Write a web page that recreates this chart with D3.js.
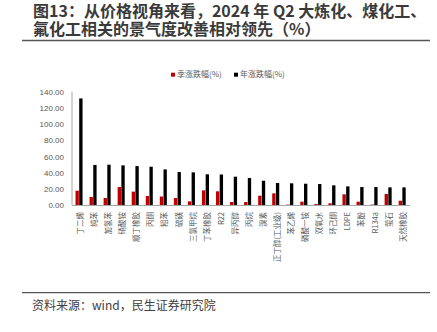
<!DOCTYPE html>
<html><head><meta charset="utf-8">
<script src="https://cdn.jsdelivr.net/npm/d3@7/dist/d3.min.js"></script>
<style>
html,body{margin:0;padding:0;background:#fff;}
svg{display:block;}
</style></head>
<body>
<svg id="c" width="437" height="332"></svg>
<script>
const categories = ["丁二烯","纯苯","加氢苯","硝酸铵","顺丁橡胶","丙酮","粗苯","硫磺","三氯甲烷","丁苯橡胶","R22","异丙醇","丙烷","溴素","正丁醇(工业级)","苯乙烯","磷酸一铵","双氧水","环己酮","LDPE","苯酚","R134a","萤石","天然橡胶"];
const qoqChange = [17.7, 9.9, 8.6, 22.2, 16.5, 11.1, 10.5, 8.6, 4.5, 18.1, 16.9, 3.7, 3.7, 11.5, 14.4, 0.5, 4.1, 1.2, 2.1, 13.2, 4.1, 0.5, 13.6, 5.3];
const yoyChange = [131.7, 49.5, 49.8, 49.0, 48.1, 47.3, 44.0, 40.7, 40.3, 37.9, 37.7, 35.0, 33.3, 30.0, 27.2, 26.8, 26.3, 25.9, 24.3, 23.0, 22.2, 22.2, 21.8, 21.8];
const seriesNames = ["季涨跌幅(%)", "年涨跌幅(%)"];
const seriesColors = ["#C00000", "#000000"];
const yTicks = [0, 20, 40, 60, 80, 100, 120, 140];
const titleLines = ["图13：从价格视角来看，2024 年 Q2 大炼化、煤化工、", "氟化工相关的景气度改善相对领先（%）"];
const sourceText = "资料来源：wind，民生证券研究院";

const svg = d3.select("#c");
const cjk = "'Noto Sans CJK SC', 'Noto Sans', sans-serif";
const latin = "'Liberation Sans', Arial, 'Noto Sans CJK SC', sans-serif";

// Title
svg.selectAll("text.title").data(titleLines).join("text")
  .attr("class","title")
  .attr("x", 33).attr("y", (d,i) => 17 + i*18.3)
  .attr("font-family", cjk).attr("font-weight", "bold").attr("font-size", 16)
  .attr("fill", "#3a3a3a").text(d => d);
svg.append("line").attr("x1", 22).attr("x2", 430).attr("y1", 40.5).attr("y2", 40.5)
  .attr("stroke", "#555").attr("stroke-width", 1.3);

// Footer
svg.append("line").attr("x1", 22).attr("x2", 430).attr("y1", 292.7).attr("y2", 292.7)
  .attr("stroke", "#555").attr("stroke-width", 1.3);
svg.append("text").attr("x", 32).attr("y", 310)
  .attr("font-family", cjk).attr("font-size", 12).attr("fill", "#404040").text(sourceText);

// Scales
const x = d3.scaleBand().domain(categories).range([72, 72 + 24*14.05]).paddingInner(0.5).paddingOuter(0.25);
const x1 = d3.scaleBand().domain([0,1]).range([0, x.bandwidth()]).paddingInner(0.1);
const y = d3.scaleLinear().domain([0, 140]).range([205, 91.7]);

// Y axis labels
const yAxis = d3.axisLeft(y).tickValues(yTicks).tickFormat(d3.format(".2f")).tickSize(0).tickPadding(8);
const gy = svg.append("g").attr("transform", "translate(72,0)").call(yAxis);
gy.select(".domain").remove();
gy.selectAll("text").attr("font-family", latin).attr("font-size", 8).attr("fill", "#595959");
svg.append("line").attr("x1", 72).attr("x2", 72).attr("y1", 91.7).attr("y2", 205)
  .attr("stroke", "#a6a6a6").attr("stroke-width", 1);

// Bars
const data = categories.map((c,i) => ({c, v:[qoqChange[i], yoyChange[i]]}));
const g = svg.append("g");
const grp = g.selectAll("g.cat").data(data).join("g").attr("class","cat")
  .attr("transform", d => `translate(${x(d.c)},0)`);
grp.selectAll("rect").data(d => d.v.map((v,k) => ({v,k}))).join("rect")
  .attr("x", d => x1(d.k)).attr("width", x1.bandwidth())
  .attr("y", d => Math.min(y(d.v), y(0))).attr("height", d => Math.abs(y(0) - y(d.v)))
  .attr("fill", d => seriesColors[d.k]);

// X axis
const xAxis = d3.axisBottom(x).tickSize(0).tickPadding(0);
const gx = svg.append("g").attr("transform", "translate(0,205)").call(xAxis);
gx.select(".domain").attr("stroke", "#a6a6a6").attr("d", "M72,0.5H410");
gx.selectAll(".tick text")
  .attr("font-family", cjk).attr("font-size", 7.5).attr("fill", "#595959")
  .attr("text-anchor", "end")
  .attr("transform", "translate(1.5,7) rotate(-90)")
  .attr("x", 0).attr("y", 0).attr("dy", "0.35em");

// Legend
const lg = svg.append("g").selectAll("g").data(seriesNames).join("g")
  .attr("transform", (d,i) => `translate(${171 + i*63},0)`);
lg.append("rect").attr("x", 0).attr("y", 72.7).attr("width", 4).attr("height", 4)
  .attr("fill", (d,i) => seriesColors[i]);
lg.append("text").attr("x", 6).attr("y", 77.3)
  .attr("font-family", cjk).attr("font-size", 8).attr("fill", "#595959").text(d => d);
</script>
</body></html>
